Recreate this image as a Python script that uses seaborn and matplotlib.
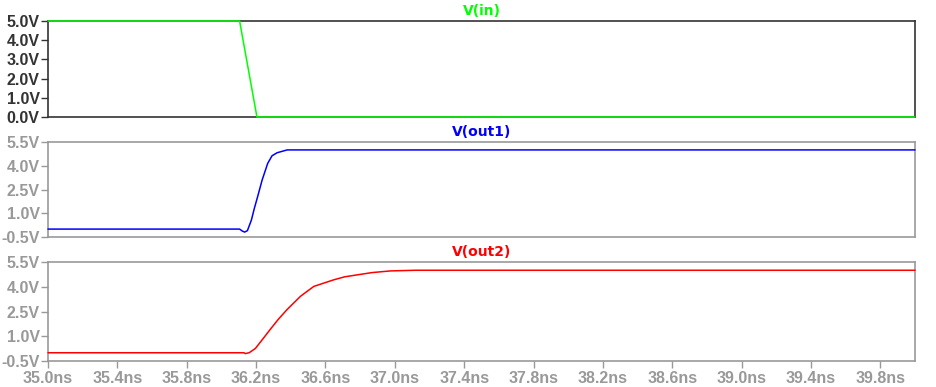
import numpy as np
import pandas as pd
import matplotlib
matplotlib.use("Agg")
import matplotlib.pyplot as plt
import seaborn as sns

# transient waveforms (time in ns, volts)
vin_t = [35.0, 36.105, 36.205, 40.0]
vin_v = [5.0, 5.0, 0.0, 0.0]

out1_t = [35.0, 36.105, 36.12, 36.134, 36.15, 36.173, 36.19, 36.209, 36.235,
          36.267, 36.292, 36.321, 36.379, 40.0]
out1_v = [0.0, 0.0, -0.12, -0.19, -0.1, 0.57, 1.31, 2.05, 3.1,
          4.15, 4.63, 4.82, 5.0, 5.0]

out2_t = [35.0, 36.13, 36.138, 36.16, 36.196, 36.24, 36.282, 36.33, 36.379,
          36.456, 36.494, 36.533, 36.59, 36.648, 36.71, 36.783, 36.87,
          36.976, 37.12, 40.0]
out2_v = [0.0, 0.0, -0.05, 0.0, 0.26, 0.85, 1.42, 2.05, 2.62,
          3.42, 3.72, 4.02, 4.22, 4.42, 4.6, 4.72, 4.86,
          4.96, 5.0, 5.0]

x_ticks = [35.0, 35.4, 35.8, 36.2, 36.6, 37.0, 37.4, 37.8, 38.2, 38.6, 39.0, 39.4, 39.8]
yticks_in = [0.0, 1.0, 2.0, 3.0, 4.0, 5.0]
yticks_out = [-0.5, 1.0, 2.5, 4.0, 5.5]

sns.set_theme(style="white")
plt.rcParams["font.family"] = ["Liberation Sans", "DejaVu Sans"]

fig = plt.figure(figsize=(9.36, 3.87), dpi=100)
left, width = 48 / 936, (915 - 48) / 936
rows = [(21, 117), (142, 237), (262, 361)]
axes = [fig.add_axes([left, 1 - b / 387, width, (b - t) / 387]) for t, b in rows]

panels = [
    ("V(in)", vin_t, vin_v, "#00ff00", yticks_in, (0, 5), "#333333"),
    ("V(out1)", out1_t, out1_v, "#0000ff", yticks_out, (-0.5, 5.5), "#999999"),
    ("V(out2)", out2_t, out2_v, "#ff0000", yticks_out, (-0.5, 5.5), "#999999"),
]

for i, (ax, (name, t, v, col, yt, ylim, frame)) in enumerate(zip(axes, panels)):
    df = pd.DataFrame({"t": t, "v": v})
    sns.lineplot(data=df, x="t", y="v", ax=ax, color=col, linewidth=1.1,
                 clip_on=False, zorder=5)
    ax.set_xlim(35.0, 40.0)
    ax.set_ylim(*ylim)
    ax.set_yticks(yt)
    ax.set_yticklabels([f"{y:.1f}V" for y in yt])
    ax.set_xlabel("")
    ax.set_ylabel("")
    for s in ax.spines.values():
        s.set_color(frame)
        s.set_linewidth(1.2)
    ax.tick_params(axis="y", left=True, length=5, width=1, color=frame,
                   labelcolor=frame, labelsize=11.5, pad=1)
    for lab in ax.get_yticklabels():
        lab.set_fontweight("bold")
    if i < 2:
        ax.set_xticks([])
    else:
        ax.set_xticks(x_ticks)
        ax.set_xticklabels([f"{x:.1f}ns" for x in x_ticks])
        ax.tick_params(axis="x", bottom=True, length=5, width=1, color=frame,
                       labelcolor=frame, labelsize=11.5, pad=2)
        for lab in ax.get_xticklabels():
            lab.set_fontweight("bold")
    ax.set_title(name, color=col, fontsize=10, fontweight="bold",
                 family=["DejaVu Sans"], pad=4)

fig.savefig("out.png", dpi=100)
